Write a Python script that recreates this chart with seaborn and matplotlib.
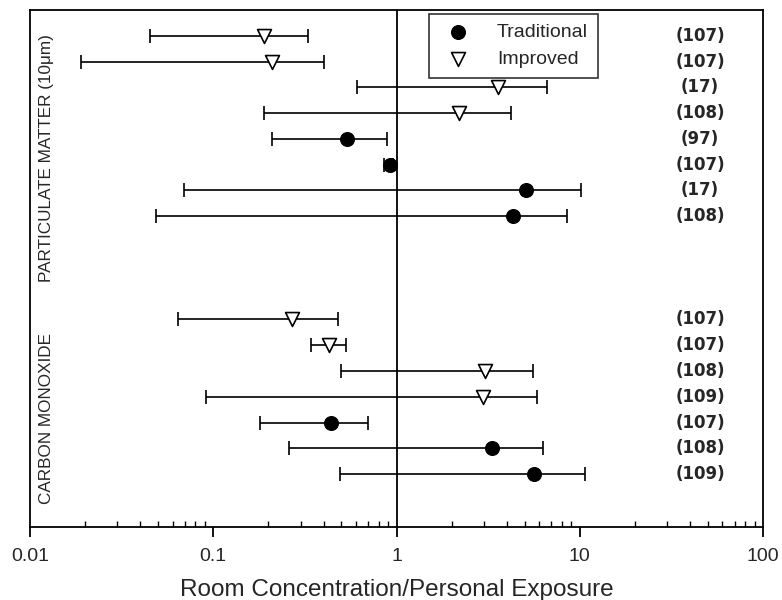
import numpy as np
import pandas as pd
import matplotlib
matplotlib.use("Agg")
import matplotlib.pyplot as plt
import matplotlib.transforms as mtrans
import seaborn as sns

# rows from top to bottom (PM section, then CO section)
pm_groups = ['Improved', 'Improved', 'Improved', 'Improved',
             'Traditional', 'Traditional', 'Traditional', 'Traditional']
pm_mid = [0.19, 0.21, 3.6, 2.2, 0.54, 0.92, 5.1, 4.3]
pm_low = [0.045, 0.019, 0.61, 0.19, 0.21, 0.85, 0.069, 0.049]
pm_high = [0.33, 0.40, 6.6, 4.2, 0.89, 0.96, 10.1, 8.5]
pm_refs = ['(107)', '(107)', '(17)', '(108)', '(97)', '(107)', '(17)', '(108)']

co_groups = ['Improved', 'Improved', 'Improved', 'Improved',
             'Traditional', 'Traditional', 'Traditional']
co_mid = [0.27, 0.43, 3.04, 2.96, 0.44, 3.32, 5.6]
co_low = [0.064, 0.34, 0.50, 0.091, 0.18, 0.26, 0.49]
co_high = [0.48, 0.53, 5.56, 5.84, 0.70, 6.33, 10.7]
co_refs = ['(107)', '(107)', '(108)', '(109)', '(107)', '(108)', '(109)']

gap_rows = 3

pm = pd.DataFrame({'group': pm_groups, 'mid': pm_mid, 'low': pm_low,
                   'high': pm_high, 'ref': pm_refs})
pm['row'] = np.arange(len(pm))
co = pd.DataFrame({'group': co_groups, 'mid': co_mid, 'low': co_low,
                   'high': co_high, 'ref': co_refs})
co['row'] = np.arange(len(co)) + len(pm) + gap_rows
df = pd.concat([pm, co], ignore_index=True)

sns.set_style("ticks")
plt.rcParams['font.family'] = ['Liberation Sans', 'DejaVu Sans']

fig = plt.figure(figsize=(7.82, 6.0), dpi=100)
ax = fig.add_axes([30 / 782, 1 - 527 / 600, 733 / 782, 517 / 600])

# error bars
ax.errorbar(df['mid'], df['row'],
            xerr=[df['mid'] - df['low'], df['high'] - df['mid']],
            fmt='none', ecolor='black', elinewidth=1.2, capsize=5,
            capthick=1.2, zorder=2)

# markers
sns.scatterplot(data=df[df['group'] == 'Traditional'], x='mid', y='row',
                marker='o', color='black', edgecolor='black', s=100,
                label='Traditional', ax=ax, zorder=3)
sns.scatterplot(data=df[df['group'] == 'Improved'], x='mid', y='row',
                marker='v', facecolor='white', edgecolor='black',
                linewidth=1.2, s=100, label='Improved', ax=ax, zorder=3)

ax.axvline(1, color='black', lw=1.3, zorder=1)

ax.set_xscale('log')
ax.set_xlim(0.01, 100)
ax.set_ylim(len(df) + gap_rows + 1.05, -1.0)
ax.set_yticks([])
ax.set_ylabel('')
ax.set_xticks([0.01, 0.1, 1, 10, 100])
ax.set_xticklabels(['0.01', '0.1', '1', '10', '100'])
ax.tick_params(axis='x', which='major', direction='out', length=7,
               width=1.3, labelsize=14, pad=8, top=False, color='black')
ax.tick_params(axis='x', which='minor', direction='in', length=4,
               width=1, top=False, color='black')
ax.tick_params(axis='y', left=False, right=False)
ax.set_xlabel('Room Concentration/Personal Exposure', fontsize=17.5, labelpad=10)
for s in ax.spines.values():
    s.set_linewidth(1.3)
    s.set_color('black')

# reference labels on the right
right_tr = mtrans.blended_transform_factory(ax.transAxes, ax.transData)
for _, r in df.iterrows():
    ax.text(0.914, r['row'], r['ref'], transform=right_tr,
            ha='center', va='center', fontsize=12, fontweight='bold',
            family=['DejaVu Sans'])

# section labels
ax.text(0.023, 4.75, 'PARTICULATE MATTER (10μm)', transform=right_tr,
        rotation=90, ha='center', va='center', fontsize=12.3)
ax.text(0.023, 14.85, 'CARBON MONOXIDE', transform=right_tr,
        rotation=90, ha='center', va='center', fontsize=12.3)

leg = ax.legend(loc='upper left', bbox_to_anchor=(0.544, 0.992),
                frameon=True, fancybox=False, edgecolor='black',
                fontsize=14, handletextpad=1.0, borderpad=0.5,
                labelspacing=0.45, borderaxespad=0)
leg.get_frame().set_linewidth(1.2)

fig.savefig('out.png', dpi=100)
